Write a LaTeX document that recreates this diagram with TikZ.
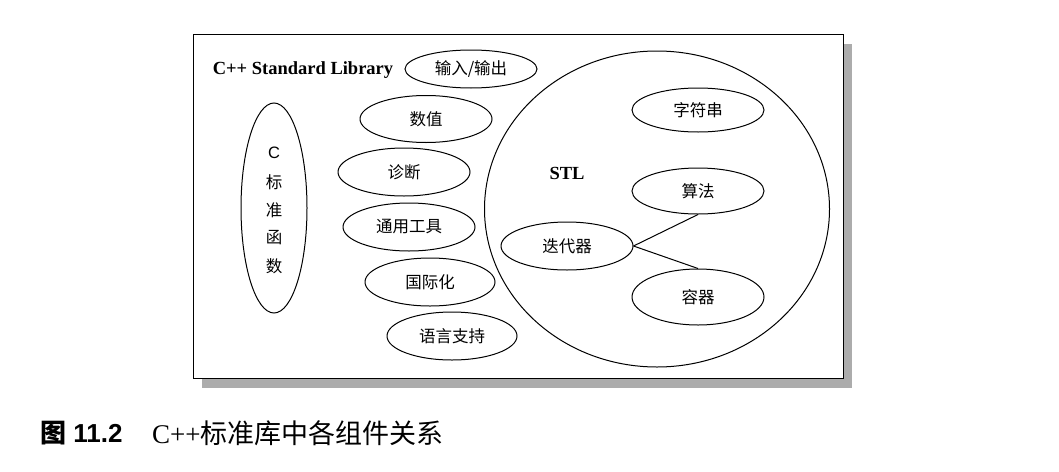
\documentclass[tikz,border=0pt]{standalone}
\usepackage{fontspec}
\setmainfont{Liberation Serif}
\setsansfont{Liberation Sans}
\newfontfamily\cjk{Noto Sans CJK SC}
\usetikzlibrary{shapes.geometric}
\tikzset{
  ell/.style={draw, ellipse, inner sep=0pt, line width=1pt, font=\cjk\fontsize{16.5}{16.5}\selectfont},
  conn/.style={draw, line width=1pt},
  titletext/.style={font=\bfseries\fontsize{18.5}{20}\selectfont, inner sep=0pt},
}
\begin{document}
\begin{tikzpicture}[x=1pt,y=-1pt]
\useasboundingbox (0,0) rectangle (1059,471);
% shadow and frame
\fill[gray!65] (202,44) rectangle (852,388);
\node[draw, fill=white, line width=1.2pt, inner sep=0pt, minimum width=650pt, minimum height=344pt, anchor=north west] (frame) at (193,34) {};
\node[titletext, anchor=center] (title) at (303,70) {C++ Standard Library};
% left column
\node[ell, minimum width=66pt, minimum height=210pt] (cfun) at (274,208) {};
\node[font=\sffamily\fontsize{16.5}{16.5}\selectfont, inner sep=0pt] (cC) at (274,153) {C};
\node[font=\cjk\fontsize{16.5}{16.5}\selectfont, inner sep=0pt] (c1) at (274,182) {标};
\node[font=\cjk\fontsize{16.5}{16.5}\selectfont, inner sep=0pt] (c2) at (274,210) {准};
\node[font=\cjk\fontsize{16.5}{16.5}\selectfont, inner sep=0pt] (c3) at (274,238) {函};
\node[font=\cjk\fontsize{16.5}{16.5}\selectfont, inner sep=0pt] (c4) at (274,266) {数};
% middle column
\node[ell, minimum width=132pt, minimum height=38pt] (io) at (471,69) {输入/输出};
\node[ell, minimum width=132pt, minimum height=47pt] (num) at (426,119) {数值};
\node[ell, minimum width=132pt, minimum height=48pt] (diag) at (404,172) {诊断};
\node[ell, minimum width=132pt, minimum height=48pt] (util) at (409,227) {通用工具};
\node[ell, minimum width=130pt, minimum height=48pt] (intl) at (430,282) {国际化};
\node[ell, minimum width=130pt, minimum height=48pt] (lang) at (452,336) {语言支持};
% STL
\node[draw, ellipse, inner sep=0pt, line width=1pt, minimum width=345pt, minimum height=316pt] (stl) at (657,209) {};
\node[titletext] (stltext) at (567,173) {STL};
\node[ell, minimum width=132pt, minimum height=44pt] (str) at (698,110) {字符串};
\node[ell, minimum width=132pt, minimum height=46pt] (algo) at (698,191) {算法};
\node[ell, minimum width=132pt, minimum height=48pt] (iter) at (567,246) {迭代器};
\node[ell, minimum width=132pt, minimum height=56pt] (cont) at (698,297) {容器};
\draw[conn] (iter.east) -- (algo.south);
\draw[conn] (iter.east) -- (cont.north);
% caption
\node[anchor=west, inner sep=0pt, font=\sffamily\bfseries\fontsize{26}{28}\selectfont] (capnum) at (40,433) {{\cjk\bfseries 图} 11.2};
\node[anchor=west, inner sep=0pt, font=\fontsize{27}{29}\selectfont] (captext) at (152,433) {C++{\cjk 标准库中各组件关系}};
\end{tikzpicture}
\end{document}
